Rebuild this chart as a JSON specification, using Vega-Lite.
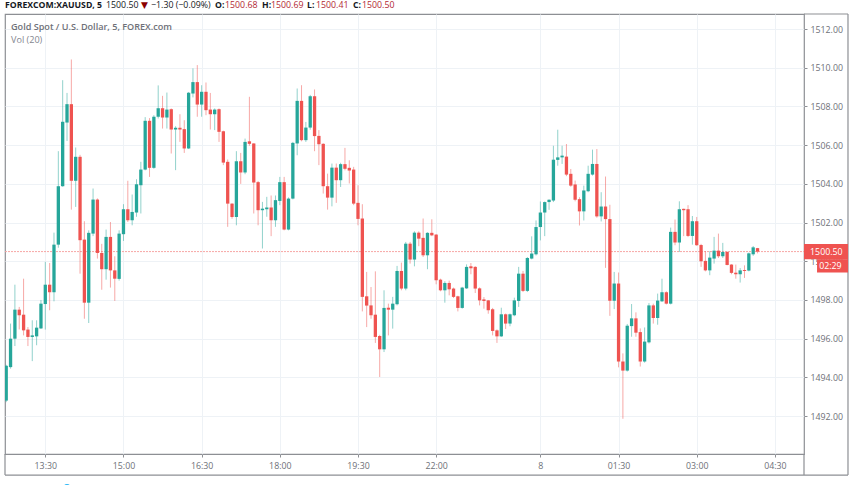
{
  "$schema": "https://vega.github.io/schema/vega-lite/v6.json",
  "width": 799,
  "height": 440,
  "autosize": "none",
  "padding": {"left": 5, "top": 14, "right": 48, "bottom": 31},
  "background": "white",
  "config": {
    "view": {"stroke": "#8d8f94", "strokeWidth": 1.2},
    "font": "Open Sans"
  },
  "datasets": {
    "candles": [
      {"i":-9,"o":1492.8,"h":1494.65,"l":1492.72,"c":1494.6},
      {"i":-8,"o":1494.53,"h":1496.78,"l":1494.45,"c":1496.0},
      {"i":-7,"o":1496.0,"h":1498.79,"l":1495.62,"c":1497.5},
      {"i":-6,"o":1497.5,"h":1497.64,"l":1496.48,"c":1497.21},
      {"i":-5,"o":1497.24,"h":1499.1,"l":1496.17,"c":1496.43},
      {"i":-4,"o":1496.47,"h":1496.6,"l":1495.62,"c":1496.09},
      {"i":-3,"o":1496.09,"h":1496.95,"l":1494.84,"c":1496.17},
      {"i":-2,"o":1496.12,"h":1496.95,"l":1495.66,"c":1496.57},
      {"i":-1,"o":1496.53,"h":1498.0,"l":1496.5,"c":1497.81},
      {"i":0,"o":1497.79,"h":1499.97,"l":1496.47,"c":1498.79},
      {"i":1,"o":1498.79,"h":1499.91,"l":1497.47,"c":1498.4},
      {"i":2,"o":1498.4,"h":1501.48,"l":1497.93,"c":1500.86},
      {"i":3,"o":1500.86,"h":1505.69,"l":1500.7,"c":1503.88},
      {"i":4,"o":1503.88,"h":1509.36,"l":1503.85,"c":1507.21},
      {"i":5,"o":1507.17,"h":1508.7,"l":1506.22,"c":1508.12},
      {"i":6,"o":1508.12,"h":1510.43,"l":1502.67,"c":1504.16},
      {"i":7,"o":1504.16,"h":1505.88,"l":1502.81,"c":1505.4},
      {"i":8,"o":1505.4,"h":1505.5,"l":1499.36,"c":1501.09},
      {"i":9,"o":1501.12,"h":1502.07,"l":1497.03,"c":1497.86},
      {"i":10,"o":1497.86,"h":1501.6,"l":1496.81,"c":1501.47},
      {"i":11,"o":1501.43,"h":1503.76,"l":1501.3,"c":1503.19},
      {"i":12,"o":1503.19,"h":1503.25,"l":1500.14,"c":1500.43},
      {"i":13,"o":1500.43,"h":1500.9,"l":1498.53,"c":1499.59},
      {"i":14,"o":1499.59,"h":1501.64,"l":1499.05,"c":1501.26},
      {"i":15,"o":1501.26,"h":1502.03,"l":1498.64,"c":1499.53},
      {"i":16,"o":1499.53,"h":1500.26,"l":1497.95,"c":1499.1},
      {"i":17,"o":1499.09,"h":1501.6,"l":1499.0,"c":1501.43},
      {"i":18,"o":1501.4,"h":1502.95,"l":1501.05,"c":1502.69},
      {"i":19,"o":1502.69,"h":1504.16,"l":1502.03,"c":1502.12},
      {"i":20,"o":1502.12,"h":1503.45,"l":1501.86,"c":1502.55},
      {"i":21,"o":1502.52,"h":1504.24,"l":1502.3,"c":1503.98},
      {"i":22,"o":1503.93,"h":1505.14,"l":1502.47,"c":1504.74},
      {"i":23,"o":1504.74,"h":1507.45,"l":1504.7,"c":1507.26},
      {"i":24,"o":1507.26,"h":1507.4,"l":1504.36,"c":1504.83},
      {"i":25,"o":1504.83,"h":1507.55,"l":1504.78,"c":1507.47},
      {"i":26,"o":1507.47,"h":1509.09,"l":1507.38,"c":1507.91},
      {"i":27,"o":1507.91,"h":1508.55,"l":1506.86,"c":1507.43},
      {"i":28,"o":1507.43,"h":1508.72,"l":1506.86,"c":1507.84},
      {"i":29,"o":1507.86,"h":1507.9,"l":1505.57,"c":1506.81},
      {"i":30,"o":1506.81,"h":1506.98,"l":1504.71,"c":1506.9},
      {"i":31,"o":1506.9,"h":1507.6,"l":1506.17,"c":1506.81},
      {"i":32,"o":1506.83,"h":1507.29,"l":1505.6,"c":1505.83},
      {"i":33,"o":1505.83,"h":1508.75,"l":1505.8,"c":1508.71},
      {"i":34,"o":1508.67,"h":1509.97,"l":1508.47,"c":1509.26},
      {"i":35,"o":1509.26,"h":1510.14,"l":1507.47,"c":1508.1},
      {"i":36,"o":1508.1,"h":1509.1,"l":1507.47,"c":1508.76},
      {"i":37,"o":1508.76,"h":1509.24,"l":1507.55,"c":1507.81},
      {"i":38,"o":1507.84,"h":1508.7,"l":1506.81,"c":1507.6},
      {"i":39,"o":1507.6,"h":1507.9,"l":1506.78,"c":1507.84},
      {"i":40,"o":1507.86,"h":1507.9,"l":1506.17,"c":1506.69},
      {"i":41,"o":1506.72,"h":1506.75,"l":1504.97,"c":1505.1},
      {"i":42,"o":1505.14,"h":1505.26,"l":1501.78,"c":1502.98},
      {"i":43,"o":1502.98,"h":1503.0,"l":1502.2,"c":1502.29},
      {"i":44,"o":1502.29,"h":1505.69,"l":1501.86,"c":1505.17},
      {"i":45,"o":1505.17,"h":1505.6,"l":1504.0,"c":1504.59},
      {"i":46,"o":1504.59,"h":1506.34,"l":1504.5,"c":1506.17},
      {"i":47,"o":1506.2,"h":1508.5,"l":1505.97,"c":1506.07},
      {"i":48,"o":1506.09,"h":1506.1,"l":1502.47,"c":1504.07},
      {"i":49,"o":1504.09,"h":1504.15,"l":1501.86,"c":1502.64},
      {"i":50,"o":1502.64,"h":1503.07,"l":1500.66,"c":1502.72},
      {"i":51,"o":1502.69,"h":1503.33,"l":1502.3,"c":1502.78},
      {"i":52,"o":1502.78,"h":1503.4,"l":1501.3,"c":1502.12},
      {"i":53,"o":1502.12,"h":1503.4,"l":1501.78,"c":1503.16},
      {"i":54,"o":1503.12,"h":1504.36,"l":1502.9,"c":1504.09},
      {"i":55,"o":1504.09,"h":1504.36,"l":1501.6,"c":1501.64},
      {"i":56,"o":1501.64,"h":1503.3,"l":1501.6,"c":1503.24},
      {"i":57,"o":1503.24,"h":1506.17,"l":1503.2,"c":1506.12},
      {"i":58,"o":1506.09,"h":1508.93,"l":1505.48,"c":1508.29},
      {"i":59,"o":1508.29,"h":1509.1,"l":1506.2,"c":1506.26},
      {"i":60,"o":1506.26,"h":1507.2,"l":1506.17,"c":1506.91},
      {"i":61,"o":1506.91,"h":1508.6,"l":1506.8,"c":1508.53},
      {"i":62,"o":1508.53,"h":1508.88,"l":1505.69,"c":1506.47},
      {"i":63,"o":1506.48,"h":1506.78,"l":1504.97,"c":1506.05},
      {"i":64,"o":1506.07,"h":1506.1,"l":1503.5,"c":1503.88},
      {"i":65,"o":1503.88,"h":1504.53,"l":1502.67,"c":1503.29},
      {"i":66,"o":1503.29,"h":1505.05,"l":1502.84,"c":1504.84},
      {"i":67,"o":1504.84,"h":1505.05,"l":1503.02,"c":1504.19},
      {"i":68,"o":1504.19,"h":1505.09,"l":1503.84,"c":1505.02},
      {"i":69,"o":1505.02,"h":1505.86,"l":1504.7,"c":1504.78},
      {"i":70,"o":1504.83,"h":1505.22,"l":1504.02,"c":1504.69},
      {"i":71,"o":1504.74,"h":1504.88,"l":1502.9,"c":1502.98},
      {"i":72,"o":1503.02,"h":1503.93,"l":1501.86,"c":1502.19},
      {"i":73,"o":1502.21,"h":1502.95,"l":1497.41,"c":1498.16},
      {"i":74,"o":1498.19,"h":1499.45,"l":1496.6,"c":1497.71},
      {"i":75,"o":1497.72,"h":1498.67,"l":1497.03,"c":1497.21},
      {"i":76,"o":1497.24,"h":1499.48,"l":1495.78,"c":1496.09},
      {"i":77,"o":1496.14,"h":1496.2,"l":1494.02,"c":1495.45},
      {"i":78,"o":1495.45,"h":1498.5,"l":1495.31,"c":1497.59},
      {"i":79,"o":1497.6,"h":1497.81,"l":1496.17,"c":1497.5},
      {"i":80,"o":1497.5,"h":1498.16,"l":1496.52,"c":1497.81},
      {"i":81,"o":1497.78,"h":1499.76,"l":1497.72,"c":1499.5},
      {"i":82,"o":1499.5,"h":1499.93,"l":1498.5,"c":1498.59},
      {"i":83,"o":1498.59,"h":1501.0,"l":1498.5,"c":1500.91},
      {"i":84,"o":1500.91,"h":1501.0,"l":1499.88,"c":1500.09},
      {"i":85,"o":1500.09,"h":1501.55,"l":1499.74,"c":1501.48},
      {"i":86,"o":1501.48,"h":1501.55,"l":1500.78,"c":1501.17},
      {"i":87,"o":1501.21,"h":1502.21,"l":1500.22,"c":1500.31},
      {"i":88,"o":1500.31,"h":1501.5,"l":1499.59,"c":1501.47},
      {"i":89,"o":1501.47,"h":1502.17,"l":1501.3,"c":1501.34},
      {"i":90,"o":1501.38,"h":1501.4,"l":1498.81,"c":1499.02},
      {"i":91,"o":1499.05,"h":1499.1,"l":1498.45,"c":1498.5},
      {"i":92,"o":1498.5,"h":1498.97,"l":1497.86,"c":1498.88},
      {"i":93,"o":1498.88,"h":1499.0,"l":1498.24,"c":1498.55},
      {"i":94,"o":1498.59,"h":1498.64,"l":1498.1,"c":1498.16},
      {"i":95,"o":1498.19,"h":1498.22,"l":1497.41,"c":1497.59},
      {"i":96,"o":1497.59,"h":1498.68,"l":1497.55,"c":1498.64},
      {"i":97,"o":1498.6,"h":1499.84,"l":1498.57,"c":1499.71},
      {"i":98,"o":1499.74,"h":1499.91,"l":1499.33,"c":1499.64},
      {"i":99,"o":1499.71,"h":1499.75,"l":1498.36,"c":1498.59},
      {"i":100,"o":1498.6,"h":1498.65,"l":1497.72,"c":1497.98},
      {"i":101,"o":1498.03,"h":1498.15,"l":1497.55,"c":1497.95},
      {"i":102,"o":1497.98,"h":1498.0,"l":1497.29,"c":1497.47},
      {"i":103,"o":1497.52,"h":1497.59,"l":1496.17,"c":1496.4},
      {"i":104,"o":1496.43,"h":1496.48,"l":1495.78,"c":1496.12},
      {"i":105,"o":1496.12,"h":1497.6,"l":1496.09,"c":1497.26},
      {"i":106,"o":1497.26,"h":1497.3,"l":1496.5,"c":1496.78},
      {"i":107,"o":1496.78,"h":1497.3,"l":1496.64,"c":1497.26},
      {"i":108,"o":1497.21,"h":1498.12,"l":1497.16,"c":1497.98},
      {"i":109,"o":1497.95,"h":1499.71,"l":1497.64,"c":1499.36},
      {"i":110,"o":1499.36,"h":1499.5,"l":1498.41,"c":1498.47},
      {"i":111,"o":1498.47,"h":1500.22,"l":1498.41,"c":1500.17},
      {"i":112,"o":1500.14,"h":1501.29,"l":1500.1,"c":1500.4},
      {"i":113,"o":1500.36,"h":1502.11,"l":1500.3,"c":1501.77},
      {"i":114,"o":1501.77,"h":1503.09,"l":1501.08,"c":1502.52},
      {"i":115,"o":1502.52,"h":1503.09,"l":1501.3,"c":1503.06},
      {"i":116,"o":1503.06,"h":1503.2,"l":1502.66,"c":1503.18},
      {"i":117,"o":1503.14,"h":1505.97,"l":1503.06,"c":1505.25},
      {"i":118,"o":1505.24,"h":1506.8,"l":1504.94,"c":1505.37},
      {"i":119,"o":1505.37,"h":1505.97,"l":1505.03,"c":1505.46},
      {"i":120,"o":1505.41,"h":1506.06,"l":1504.4,"c":1504.48},
      {"i":121,"o":1504.52,"h":1504.77,"l":1503.85,"c":1503.91},
      {"i":122,"o":1503.97,"h":1504.17,"l":1503.1,"c":1503.18},
      {"i":123,"o":1503.21,"h":1503.31,"l":1501.85,"c":1502.58},
      {"i":124,"o":1502.58,"h":1503.91,"l":1502.11,"c":1503.66},
      {"i":125,"o":1503.62,"h":1504.94,"l":1503.57,"c":1504.52},
      {"i":126,"o":1504.48,"h":1505.77,"l":1504.43,"c":1505.03},
      {"i":127,"o":1505.03,"h":1505.8,"l":1502.25,"c":1502.32},
      {"i":128,"o":1502.32,"h":1503.57,"l":1502.06,"c":1502.83},
      {"i":129,"o":1502.83,"h":1504.38,"l":1499.66,"c":1502.18},
      {"i":130,"o":1502.18,"h":1502.92,"l":1497.18,"c":1497.96},
      {"i":131,"o":1497.96,"h":1499.45,"l":1497.53,"c":1498.85},
      {"i":132,"o":1498.85,"h":1499.42,"l":1494.52,"c":1494.82},
      {"i":133,"o":1494.82,"h":1495.24,"l":1491.86,"c":1494.35},
      {"i":134,"o":1494.35,"h":1496.76,"l":1494.3,"c":1496.67},
      {"i":135,"o":1496.65,"h":1497.79,"l":1496.1,"c":1497.05},
      {"i":136,"o":1497.05,"h":1497.36,"l":1496.1,"c":1496.31},
      {"i":137,"o":1496.34,"h":1496.53,"l":1494.56,"c":1494.82},
      {"i":138,"o":1494.82,"h":1496.58,"l":1494.76,"c":1495.85},
      {"i":139,"o":1495.81,"h":1497.84,"l":1495.75,"c":1497.72},
      {"i":140,"o":1497.72,"h":1497.81,"l":1496.78,"c":1497.07},
      {"i":141,"o":1497.07,"h":1498.33,"l":1496.72,"c":1497.97},
      {"i":142,"o":1497.93,"h":1499.1,"l":1497.9,"c":1498.4},
      {"i":143,"o":1498.4,"h":1498.45,"l":1497.77,"c":1497.81},
      {"i":144,"o":1497.81,"h":1501.74,"l":1497.77,"c":1501.52},
      {"i":145,"o":1501.52,"h":1502.16,"l":1500.83,"c":1500.97},
      {"i":146,"o":1500.97,"h":1503.1,"l":1500.48,"c":1502.69},
      {"i":147,"o":1502.71,"h":1502.72,"l":1501.3,"c":1502.64},
      {"i":148,"o":1502.69,"h":1502.9,"l":1501.25,"c":1501.31},
      {"i":149,"o":1501.31,"h":1502.34,"l":1500.86,"c":1502.07},
      {"i":150,"o":1502.07,"h":1502.29,"l":1500.8,"c":1500.83},
      {"i":151,"o":1500.84,"h":1500.9,"l":1499.71,"c":1500.0},
      {"i":152,"o":1500.02,"h":1500.52,"l":1499.48,"c":1499.53},
      {"i":153,"o":1499.53,"h":1500.52,"l":1499.28,"c":1500.19},
      {"i":154,"o":1500.14,"h":1501.26,"l":1499.88,"c":1500.55},
      {"i":155,"o":1500.55,"h":1501.43,"l":1500.17,"c":1500.26},
      {"i":156,"o":1500.26,"h":1500.95,"l":1500.17,"c":1500.48},
      {"i":157,"o":1500.48,"h":1500.52,"l":1499.79,"c":1499.81},
      {"i":158,"o":1499.83,"h":1499.85,"l":1499.33,"c":1499.4},
      {"i":159,"o":1499.41,"h":1499.83,"l":1499.1,"c":1499.33},
      {"i":160,"o":1499.33,"h":1499.65,"l":1498.9,"c":1499.53},
      {"i":161,"o":1499.55,"h":1499.79,"l":1499.14,"c":1499.5},
      {"i":162,"o":1499.52,"h":1500.45,"l":1499.48,"c":1500.41},
      {"i":163,"o":1500.36,"h":1500.79,"l":1500.28,"c":1500.72},
      {"i":164,"o":1500.68,"h":1500.69,"l":1500.41,"c":1500.5}
    ],
    "frame": [
      {"i":-9.28,"i2":-9.28,"p":1490.04,"p2":1488.95},
      {"i":-9.28,"i2":184.83,"p":1488.95,"p2":1488.95},
      {"i":174.7,"i2":174.7,"p":1490.04,"p2":1488.95},
      {"i":174.7,"i2":184.83,"p":1512.78,"p2":1512.78},
      {"i":184.83,"i2":184.83,"p":1512.78,"p2":1488.95}
    ],
    "last": [{"i":-9.28,"i2":174.7,"p":1500.5,"p2":1500.5}],
    "tags": [
      {"i":174.7,"i2":184.83,"p":1500.89,"p2":1500.11},
      {"i":177.7,"i2":184.83,"p":1500.11,"p2":1499.42}
    ],
    "tagText": [
      {"i":176.1,"p":1500.5,"t":"1500.50"},
      {"i":178.2,"p":1499.77,"t":"02:29"}
    ],
    "headBold": [
      {"i":-9.28,"p":1513.26,"t":"FOREXCOM:XAUUSD, 5"},
      {"i":39.07,"p":1513.26,"t":"O:"},
      {"i":49.9,"p":1513.26,"t":"H:"},
      {"i":60.26,"p":1513.26,"t":"L:"},
      {"i":70.85,"p":1513.26,"t":"C:"}
    ],
    "headPlain": [
      {"i":13.98,"p":1513.26,"t":"1500.50"},
      {"i":24.34,"p":1513.26,"t":"−1.30 (−0.09%)"}
    ],
    "headRed": [
      {"i":41.38,"p":1513.26,"t":"1500.68"},
      {"i":51.97,"p":1513.26,"t":"1500.69"},
      {"i":62.33,"p":1513.26,"t":"1500.41"},
      {"i":72.92,"p":1513.26,"t":"1500.50"}
    ],
    "arrow": [{"i":22.04,"p":1513.26,"t":"▼"}],
    "legendTitle": [{"i":-7.9,"p":1512.09,"t":"Gold Spot / U.S. Dollar, 5, FOREX.com"}],
    "legendVol": [{"i":-7.9,"p":1511.45,"t":"Vol (20)"}],
    "dot": [{"i":5.0,"p":1488.33}]
  },
  "encoding": {
    "x": {
      "field": "i",
      "type": "quantitative",
      "title": null,
      "scale": {"domain": [-9.28, 174.7], "nice": false, "zero": false, "padding": 0},
      "axis": {
        "values": [0, 18, 36, 54, 72, 90, 114, 132, 150, 168],
        "labelExpr": "{'0':'13:30','18':'15:00','36':'16:30','54':'18:00','72':'19:30','90':'22:00','114':'8','132':'01:30','150':'03:00','168':'04:30'}[datum.value]",
        "domain": false,
        "grid": true,
        "gridColor": "#eef2f6",
        "gridWidth": 1,
        "tickColor": "#8d8f94",
        "tickSize": 3,
        "labelColor": "#6e7078",
        "labelFontSize": 8.8,
        "labelPadding": 4,
        "labelOverlap": false,
        "labelFlush": false
      }
    }
  },
  "layer": [
    {
      "data": {"name": "last"},
      "mark": {"type": "rule", "color": "#f7a6a4", "strokeWidth": 1, "strokeDash": [2, 1]},
      "encoding": {
        "x2": {"field": "i2"},
        "y": {
          "field": "p",
          "type": "quantitative",
          "title": null,
          "scale": {"domain": [1490.04, 1512.78], "nice": false, "zero": false},
          "axis": {
            "orient": "right",
            "values": [1492, 1494, 1496, 1498, 1500, 1502, 1504, 1506, 1508, 1510, 1512],
            "format": ".2f",
            "domain": false,
            "grid": true,
            "gridColor": "#eef2f6",
            "gridWidth": 1,
            "tickColor": "#8d8f94",
            "tickSize": 3,
            "labelColor": "#6e7078",
            "labelFontSize": 8.8,
            "labelPadding": 3
          }
        }
      }
    },
    {
      "data": {"name": "frame"},
      "mark": {"type": "rule", "color": "#8d8f94", "strokeWidth": 1.2},
      "encoding": {
        "x2": {"field": "i2"},
        "y": {"field": "p", "type": "quantitative", "title": null},
        "y2": {"field": "p2"}
      }
    },
    {
      "data": {"name": "candles"},
      "mark": {"type": "rule", "strokeWidth": 1, "opacity": 0.5, "clip": true},
      "encoding": {
        "y": {"field": "l", "type": "quantitative", "title": null},
        "y2": {"field": "h"},
        "color": {"condition": {"test": "datum.c >= datum.o", "value": "#26a69a"}, "value": "#ef5350"}
      }
    },
    {
      "data": {"name": "candles"},
      "mark": {"type": "bar", "size": 3.3, "orient": "vertical", "clip": true},
      "encoding": {
        "y": {"field": "o", "type": "quantitative", "title": null},
        "y2": {"field": "c"},
        "color": {"condition": {"test": "datum.c >= datum.o", "value": "#26a69a"}, "value": "#ef5350"}
      }
    },
    {
      "data": {"name": "tags"},
      "mark": {"type": "rect", "color": "#ef5350"},
      "encoding": {
        "x2": {"field": "i2"},
        "y": {"field": "p", "type": "quantitative", "title": null},
        "y2": {"field": "p2"}
      }
    },
    {
      "data": {"name": "tagText"},
      "mark": {"type": "text", "align": "left", "baseline": "middle", "color": "#ffffff", "fontSize": 8.8},
      "encoding": {
        "y": {"field": "p", "type": "quantitative", "title": null},
        "text": {"field": "t"}
      }
    },
    {
      "data": {"name": "headBold"},
      "mark": {"type": "text", "align": "left", "baseline": "middle", "color": "#131722", "fontSize": 8.7, "fontWeight": "bold"},
      "encoding": {
        "y": {"field": "p", "type": "quantitative", "title": null},
        "text": {"field": "t"}
      }
    },
    {
      "data": {"name": "headPlain"},
      "mark": {"type": "text", "align": "left", "baseline": "middle", "color": "#131722", "fontSize": 8.8},
      "encoding": {
        "y": {"field": "p", "type": "quantitative", "title": null},
        "text": {"field": "t"}
      }
    },
    {
      "data": {"name": "headRed"},
      "mark": {"type": "text", "align": "left", "baseline": "middle", "color": "#b22833", "fontSize": 8.8},
      "encoding": {
        "y": {"field": "p", "type": "quantitative", "title": null},
        "text": {"field": "t"}
      }
    },
    {
      "data": {"name": "arrow"},
      "mark": {"type": "text", "align": "left", "baseline": "middle", "color": "#8b0000", "fontSize": 9, "font": "DejaVu Sans"},
      "encoding": {
        "y": {"field": "p", "type": "quantitative", "title": null},
        "text": {"field": "t"}
      }
    },
    {
      "data": {"name": "legendTitle"},
      "mark": {"type": "text", "align": "left", "baseline": "middle", "color": "#6e7078", "fontSize": 9.1, "fontWeight": 600},
      "encoding": {
        "y": {"field": "p", "type": "quantitative", "title": null},
        "text": {"field": "t"}
      }
    },
    {
      "data": {"name": "legendVol"},
      "mark": {"type": "text", "align": "left", "baseline": "middle", "color": "#858790", "fontSize": 9.1},
      "encoding": {
        "y": {"field": "p", "type": "quantitative", "title": null},
        "text": {"field": "t"}
      }
    },
    {
      "data": {"name": "dot"},
      "mark": {"type": "point", "filled": true, "color": "#29b6f6", "size": 40, "opacity": 1},
      "encoding": {
        "y": {"field": "p", "type": "quantitative", "title": null}
      }
    }
  ]
}
